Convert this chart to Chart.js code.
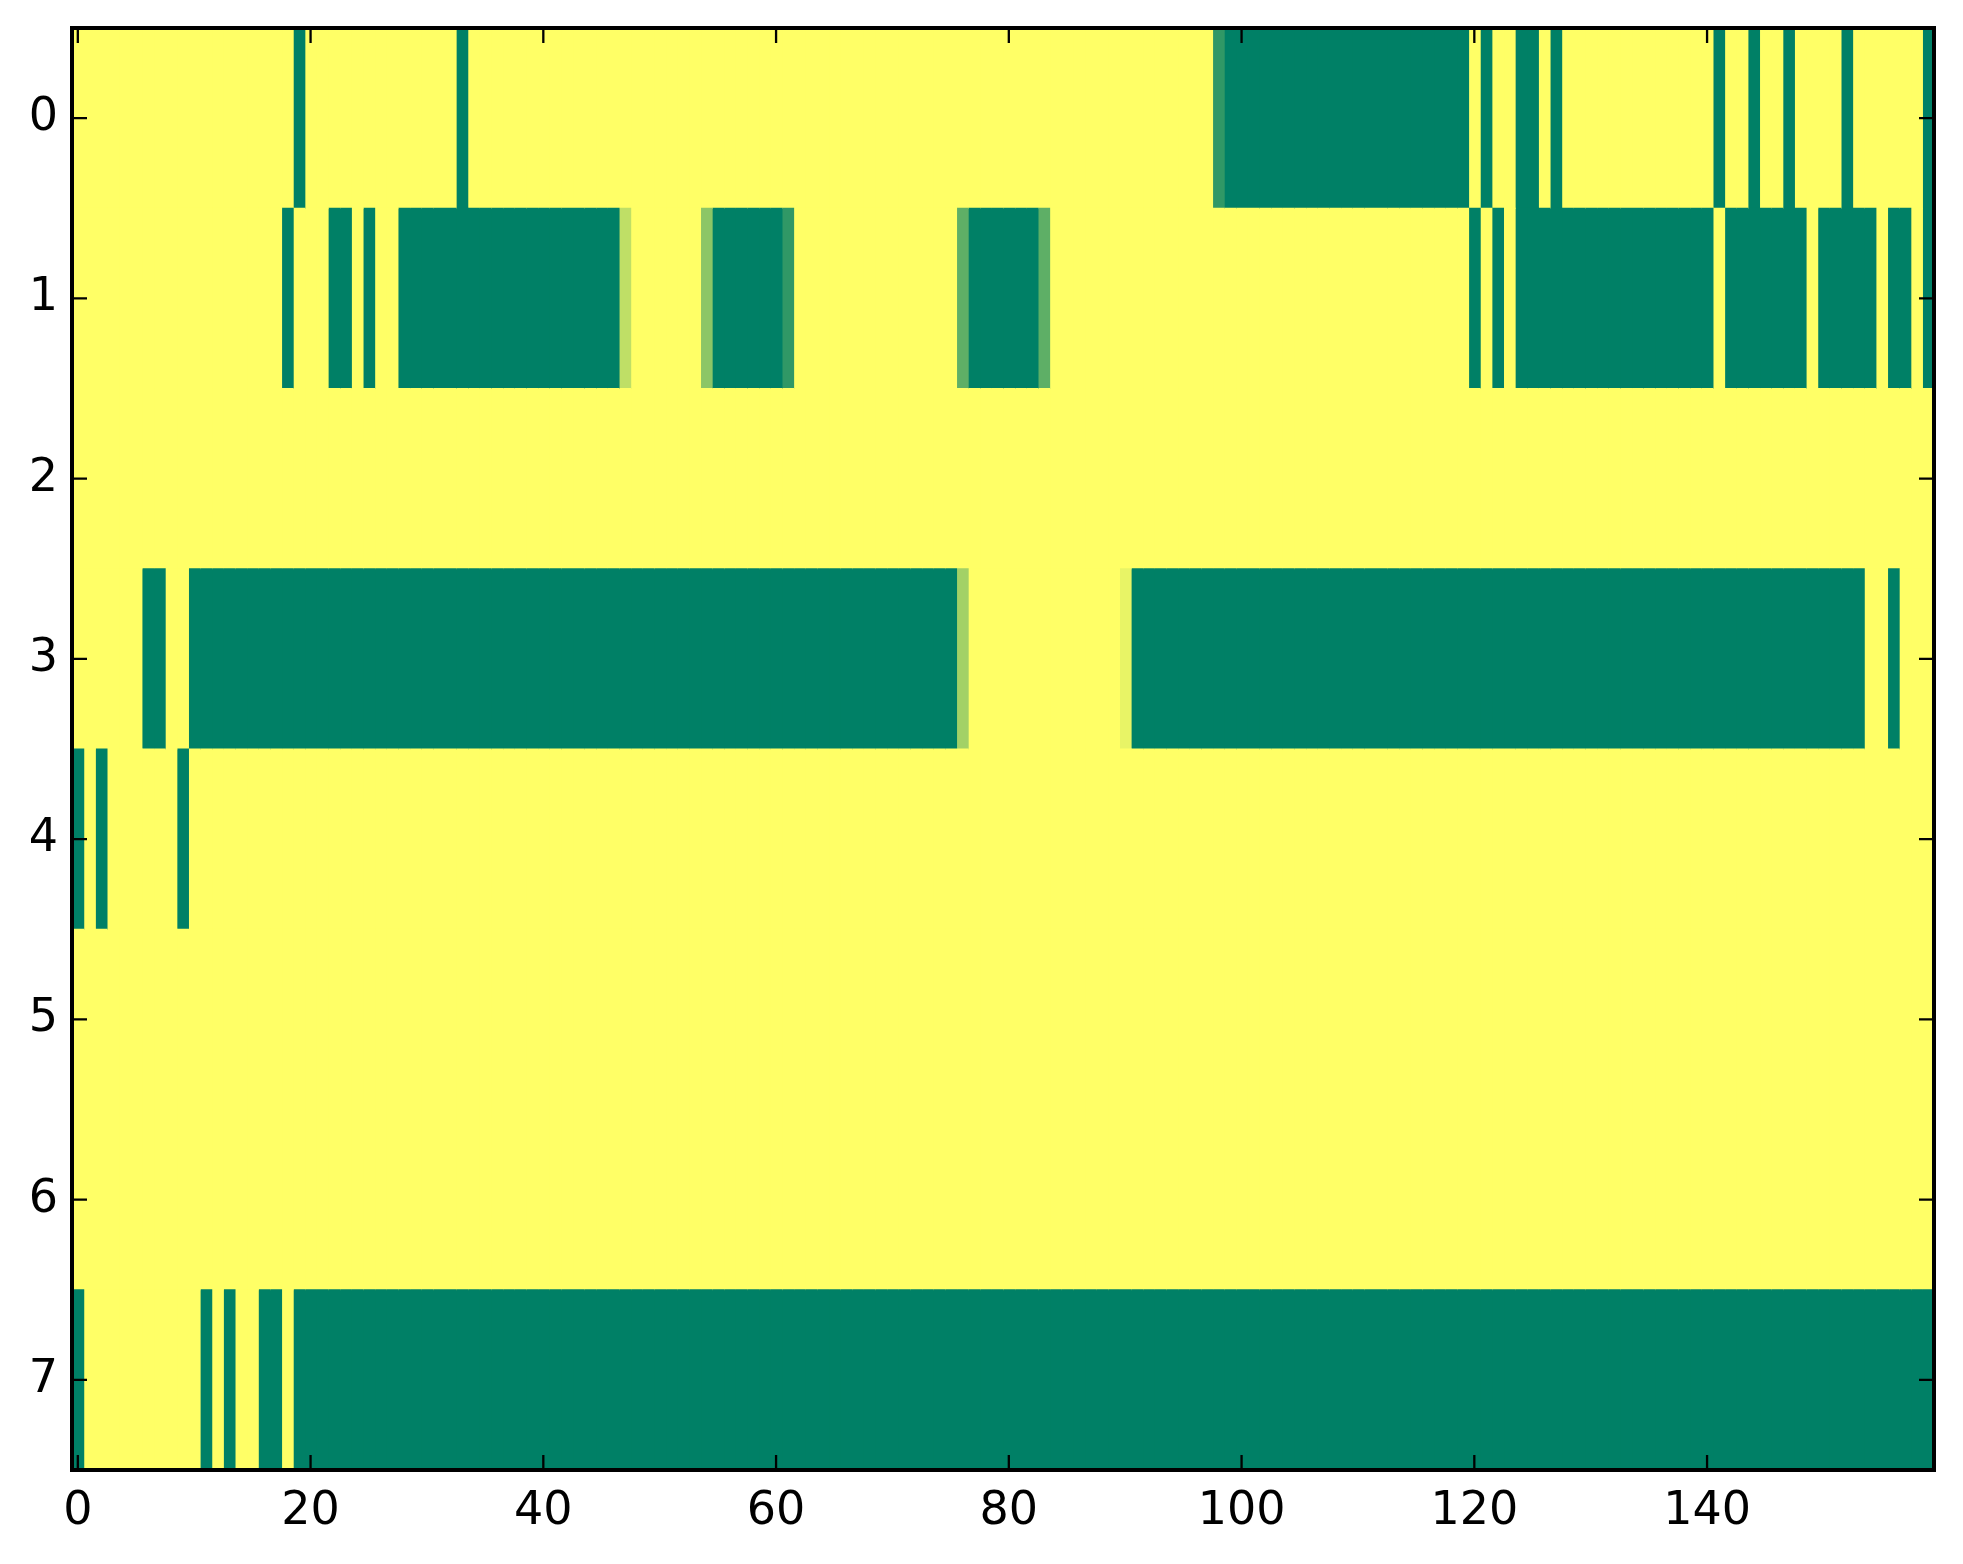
<!DOCTYPE html>
<html>
<head>
<meta charset="utf-8">
<script src="https://cdn.jsdelivr.net/npm/chart.js@4/dist/chart.umd.min.js"></script>
<style>
html,body{margin:0;padding:0;background:#fff;}
#wrap{width:1963px;height:1564px;}
</style>
</head>
<body>
<div id="wrap"><canvas id="c" width="1963" height="1564"></canvas></div>
<script>
// Row labels (y categories) and x tick labels
const rowLabels = ['0','1','2','3','4','5','6','7'];
const xTickValues = [0, 20, 40, 60, 80, 100, 120, 140];

// Cell values per row, columns 0..159 (1 = yellow, 0 = green, colormap "summer")
const row0 = [
  1,1,1,1,1,1,1,1,1,1, 1,1,1,1,1,1,1,1,1,0,
  1,1,1,1,1,1,1,1,1,1, 1,1,1,0,1,1,1,1,1,1,
  1,1,1,1,1,1,1,1,1,1, 1,1,1,1,1,1,1,1,1,1,
  1,1,1,1,1,1,1,1,1,1, 1,1,1,1,1,1,1,1,1,1,
  1,1,1,1,1,1,1,1,1,1, 1,1,1,1,1,1,1,1,0.19,0,
  0,0,0,0,0,0,0,0,0,0, 0,0,0,0,0,0,0,0,0,0,
  1,0,1,1,0,0,1,0,1,1, 1,1,1,1,1,1,1,1,1,1,
  1,0,1,1,0,1,1,0,1,1, 1,1,0,1,1,1,1,1,1,0
];
const row1 = [
  1,1,1,1,1,1,1,1,1,1, 1,1,1,1,1,1,1,1,0,1,
  1,1,0,0,1,0,1,1,0,0, 0,0,0,0,0,0,0,0,0,0,
  0,0,0,0,0,0,0,0.75,1,1, 1,1,1,1,0.55,0,0,0,0,0,
  0,0.19,1,1,1,1,1,1,1,1, 1,1,1,1,1,1,0.37,0,0,0,
  0,0,0,0.37,1,1,1,1,1,1, 1,1,1,1,1,1,1,1,1,1,
  1,1,1,1,1,1,1,1,1,1, 1,1,1,1,1,1,1,1,1,1,
  0,1,0,1,0,0,0,0,0,0, 0,0,0,0,0,0,0,0,0,0,
  0,1,0,0,0,0,0,0,0,1, 0,0,0,0,0,1,0,0,1,0
];
const row2 = [
  1,1,1,1,1,1,1,1,1,1, 1,1,1,1,1,1,1,1,1,1,
  1,1,1,1,1,1,1,1,1,1, 1,1,1,1,1,1,1,1,1,1,
  1,1,1,1,1,1,1,1,1,1, 1,1,1,1,1,1,1,1,1,1,
  1,1,1,1,1,1,1,1,1,1, 1,1,1,1,1,1,1,1,1,1,
  1,1,1,1,1,1,1,1,1,1, 1,1,1,1,1,1,1,1,1,1,
  1,1,1,1,1,1,1,1,1,1, 1,1,1,1,1,1,1,1,1,1,
  1,1,1,1,1,1,1,1,1,1, 1,1,1,1,1,1,1,1,1,1,
  1,1,1,1,1,1,1,1,1,1, 1,1,1,1,1,1,1,1,1,1
];
const row3 = [
  1,1,1,1,1,1,0,0,1,1, 0,0,0,0,0,0,0,0,0,0,
  0,0,0,0,0,0,0,0,0,0, 0,0,0,0,0,0,0,0,0,0,
  0,0,0,0,0,0,0,0,0,0, 0,0,0,0,0,0,0,0,0,0,
  0,0,0,0,0,0,0,0,0,0, 0,0,0,0,0,0,0.64,1,1,1,
  1,1,1,1,1,1,1,1,1,1, 0.91,0,0,0,0,0,0,0,0,0,
  0,0,0,0,0,0,0,0,0,0, 0,0,0,0,0,0,0,0,0,0,
  0,0,0,0,0,0,0,0,0,0, 0,0,0,0,0,0,0,0,0,0,
  0,0,0,0,0,0,0,0,0,0, 0,0,0,0,1,1,0,1,1,1
];
const row4 = [
  0,1,0,1,1,1,1,1,1,0, 1,1,1,1,1,1,1,1,1,1,
  1,1,1,1,1,1,1,1,1,1, 1,1,1,1,1,1,1,1,1,1,
  1,1,1,1,1,1,1,1,1,1, 1,1,1,1,1,1,1,1,1,1,
  1,1,1,1,1,1,1,1,1,1, 1,1,1,1,1,1,1,1,1,1,
  1,1,1,1,1,1,1,1,1,1, 1,1,1,1,1,1,1,1,1,1,
  1,1,1,1,1,1,1,1,1,1, 1,1,1,1,1,1,1,1,1,1,
  1,1,1,1,1,1,1,1,1,1, 1,1,1,1,1,1,1,1,1,1,
  1,1,1,1,1,1,1,1,1,1, 1,1,1,1,1,1,1,1,1,1
];
const row5 = [
  1,1,1,1,1,1,1,1,1,1, 1,1,1,1,1,1,1,1,1,1,
  1,1,1,1,1,1,1,1,1,1, 1,1,1,1,1,1,1,1,1,1,
  1,1,1,1,1,1,1,1,1,1, 1,1,1,1,1,1,1,1,1,1,
  1,1,1,1,1,1,1,1,1,1, 1,1,1,1,1,1,1,1,1,1,
  1,1,1,1,1,1,1,1,1,1, 1,1,1,1,1,1,1,1,1,1,
  1,1,1,1,1,1,1,1,1,1, 1,1,1,1,1,1,1,1,1,1,
  1,1,1,1,1,1,1,1,1,1, 1,1,1,1,1,1,1,1,1,1,
  1,1,1,1,1,1,1,1,1,1, 1,1,1,1,1,1,1,1,1,1
];
const row6 = [
  1,1,1,1,1,1,1,1,1,1, 1,1,1,1,1,1,1,1,1,1,
  1,1,1,1,1,1,1,1,1,1, 1,1,1,1,1,1,1,1,1,1,
  1,1,1,1,1,1,1,1,1,1, 1,1,1,1,1,1,1,1,1,1,
  1,1,1,1,1,1,1,1,1,1, 1,1,1,1,1,1,1,1,1,1,
  1,1,1,1,1,1,1,1,1,1, 1,1,1,1,1,1,1,1,1,1,
  1,1,1,1,1,1,1,1,1,1, 1,1,1,1,1,1,1,1,1,1,
  1,1,1,1,1,1,1,1,1,1, 1,1,1,1,1,1,1,1,1,1,
  1,1,1,1,1,1,1,1,1,1, 1,1,1,1,1,1,1,1,1,1
];
const row7 = [
  0,1,1,1,1,1,1,1,1,1, 1,0,1,0,1,1,0,0,1,0,
  0,0,0,0,0,0,0,0,0,0, 0,0,0,0,0,0,0,0,0,0,
  0,0,0,0,0,0,0,0,0,0, 0,0,0,0,0,0,0,0,0,0,
  0,0,0,0,0,0,0,0,0,0, 0,0,0,0,0,0,0,0,0,0,
  0,0,0,0,0,0,0,0,0,0, 0,0,0,0,0,0,0,0,0,0,
  0,0,0,0,0,0,0,0,0,0, 0,0,0,0,0,0,0,0,0,0,
  0,0,0,0,0,0,0,0,0,0, 0,0,0,0,0,0,0,0,0,0,
  0,0,0,0,0,0,0,0,0,0, 0,0,0,0,0,0,0,0,0,0
];

const rows = [row0, row1, row2, row3, row4, row5, row6, row7];
const nCols = row0.length;

// matplotlib "summer" colormap
function summer(v) {
  const r = Math.round(255 * v);
  const g = Math.round(255 * (0.5 + 0.5 * v));
  return `rgb(${r},${g},102)`;
}

// one dataset per column: a floating horizontal bar spanning the cell in every row
const datasets = [];
for (let c = 0; c < nCols; c++) {
  datasets.push({
    data: rows.map(() => [c - 0.5, c + 0.5]),
    backgroundColor: rows.map(r => summer(r[c])),
    borderWidth: 0,
    grouped: false,
    barPercentage: 1.0,
    categoryPercentage: 1.0,
    inflateAmount: 0.6
  });
}

const frameTicks = {
  id: 'frameTicks',
  afterDraw(chart) {
    const ctx = chart.ctx;
    const a = chart.chartArea;
    const xs = chart.scales.x, ys = chart.scales.y;
    const L = 15;
    ctx.save();
    ctx.strokeStyle = '#000';
    ctx.lineWidth = 2.3;
    ctx.beginPath();
    xTickValues.forEach(v => {
      const px = xs.getPixelForValue(v);
      ctx.moveTo(px, a.bottom); ctx.lineTo(px, a.bottom - L);
      ctx.moveTo(px, a.top); ctx.lineTo(px, a.top + L);
    });
    rowLabels.forEach((lab, i) => {
      const py = ys.getPixelForValue(i);
      ctx.moveTo(a.left, py); ctx.lineTo(a.left + L, py);
      ctx.moveTo(a.right, py); ctx.lineTo(a.right - L, py);
    });
    ctx.stroke();
    ctx.lineWidth = 4;
    ctx.strokeRect(a.left, a.top, a.right - a.left, a.bottom - a.top);
    ctx.restore();
  }
};

const tickFont = { family: 'DejaVu Sans', size: 46 };

new Chart(document.getElementById('c'), {
  type: 'bar',
  data: { labels: rowLabels, datasets },
  options: {
    indexAxis: 'y',
    responsive: false,
    devicePixelRatio: 1,
    animation: false,
    layout: { padding: { top: 28, right: 29, left: 0, bottom: 0 } },
    plugins: { legend: { display: false }, tooltip: { enabled: false } },
    scales: {
      x: {
        type: 'linear',
        min: -0.5,
        max: nCols - 0.5,
        grid: { display: false, drawTicks: false },
        border: { display: false },
        afterBuildTicks: (scale) => { scale.ticks = xTickValues.map(v => ({ value: v })); },
        afterFit: (scale) => { scale.height = 94; scale.paddingLeft = 0; scale.paddingRight = 0; },
        ticks: { font: tickFont, color: '#000', padding: 14, maxRotation: 0, autoSkip: false,
                 callback: (v) => String(v) }
      },
      y: {
        type: 'category',
        offset: true,
        grid: { display: false, drawTicks: false },
        border: { display: false },
        afterFit: (scale) => { scale.width = 72; scale.paddingTop = 0; scale.paddingBottom = 0; },
        ticks: { font: tickFont, color: '#000', padding: 14 }
      }
    }
  },
  plugins: [frameTicks]
});
</script>
</body>
</html>
